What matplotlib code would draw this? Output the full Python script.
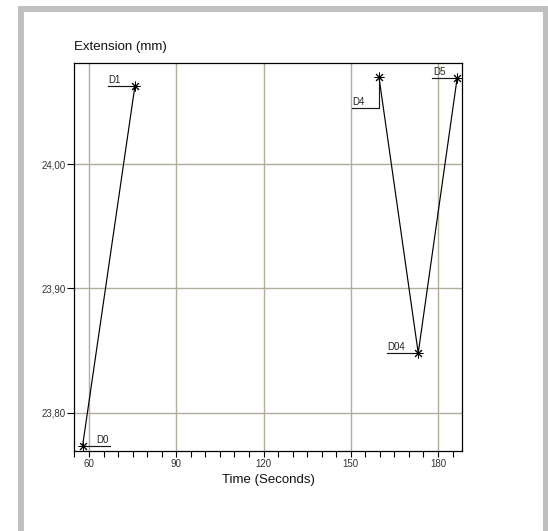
import numpy as np
import matplotlib
matplotlib.use('Agg')
import matplotlib.pyplot as plt
from matplotlib.patches import Rectangle
from matplotlib.transforms import Affine2D, ScaledTranslation
from matplotlib.ticker import FuncFormatter, MultipleLocator

plt.rcParams['font.family'] = ['Liberation Sans', 'DejaVu Sans']

# data
seg1_time = [57.8, 75.8]
seg1_ext = [23.7735, 24.063]
seg2_time = [159.7, 173.2, 186.6]
seg2_ext = [24.070, 23.848, 24.0695]

labels = ['D0', 'D1', 'D4', 'D04', 'D5']
label_time = [57.8, 75.8, 159.7, 173.2, 186.6]
label_ext = [23.7735, 24.063, 24.070, 23.848, 24.0695]
# leader paths in pixel offsets from each point, and where the text starts
leaders = [
    [(0, 0), (27, 0)],
    [(0, 0), (-27, 0)],
    [(0, 0), (0, -31), (-27, -31)],
    [(0, 0), (-31, 0)],
    [(0, 0), (-25, 0)],
]
text_pos = [(14, 0), (-27, 0), (-27, -31), (-31, 0), (-24, 0)]

x_major = [60, 90, 120, 150, 180]
y_major = [23.80, 23.90, 24.00]

fig = plt.figure(figsize=(5.48, 5.31), dpi=100)
W, H = 548, 531

# grey frame round the chart
fig.patches.append(Rectangle((21 / W, -0.02), (545.5 - 21) / W, (H - 9) / H + 0.02,
                             transform=fig.transFigure, fill=False,
                             edgecolor='#c0c0c0', linewidth=4.3))

ax = fig.add_axes([74 / W, 1 - 451 / H, (462 - 74) / W, (451 - 63) / H])
ax.set_xlim(54.84, 188.25)
ax.set_ylim(23.7692, 24.0813)

grid_col = '#b3ad9e'
for v in x_major:
    ax.axvline(v, color=grid_col, lw=1.0, zorder=1)
for v in y_major:
    ax.axhline(v, color=grid_col, lw=1.0, zorder=1)

ax.plot(seg1_time, seg1_ext, color='black', lw=0.85, zorder=3)
ax.plot(seg2_time, seg2_ext, color='black', lw=0.85, zorder=3)
ax.plot(label_time, label_ext, ls='none', marker=(8, 2, 0), ms=7,
        mec='black', mew=0.7, zorder=4)

for name, tx, ey, path, tp in zip(labels, label_time, label_ext, leaders, text_pos):
    base = ScaledTranslation(tx, ey, ax.transData)
    px = [p[0] for p in path]
    py = [p[1] for p in path]
    ax.plot(px, py, color='#1a1a1a', lw=0.85, transform=Affine2D() + base,
            clip_on=False, zorder=3)
    ax.text(tp[0], tp[1] + 1, name, transform=Affine2D() + base,
            ha='left', va='bottom', fontsize=7, color='#222222', zorder=5)

ax.xaxis.set_major_locator(matplotlib.ticker.FixedLocator(x_major))
ax.xaxis.set_minor_locator(MultipleLocator(5))
ax.yaxis.set_major_locator(matplotlib.ticker.FixedLocator(y_major))
ax.yaxis.set_major_formatter(FuncFormatter(lambda v, _: f'{v:.2f}'.replace('.', ',')))

ax.tick_params(axis='x', which='both', direction='out', length=4, width=0.8,
               labelsize=7, pad=2, colors='black', labelcolor='#333333')
ax.tick_params(axis='y', which='major', direction='out', length=5, width=0.8,
               labelsize=7, pad=1, labelcolor='#333333')
for sp in ax.spines.values():
    sp.set_linewidth(0.9)
    sp.set_color('black')

ax.set_xlabel('Time (Seconds)', fontsize=9.5, labelpad=3, color='#111111')
fig.text(74 / W, 1 - 47 / H, 'Extension (mm)', fontsize=9.5, ha='left', va='center',
         color='#111111')

fig.savefig('out.png', dpi=100, facecolor='white')
